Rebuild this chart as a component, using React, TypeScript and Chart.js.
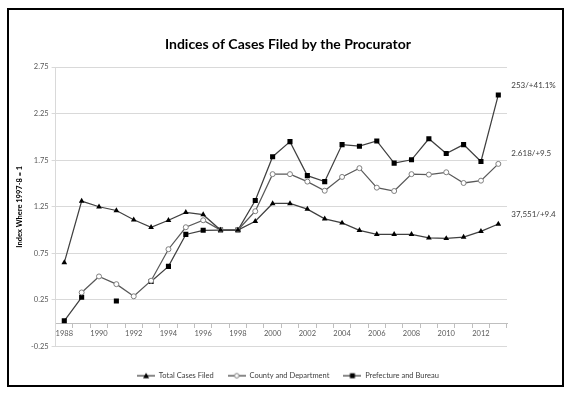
import React, { useEffect, useRef } from "react";
import { Chart, registerables } from "chart.js";

Chart.register(...registerables);

const years = [
  "1988", "1989", "1990", "1991", "1992", "1993", "1994", "1995", "1996",
  "1997", "1998", "1999", "2000", "2001", "2002", "2003", "2004", "2005",
  "2006", "2007", "2008", "2009", "2010", "2011", "2012", "2013",
];

const totalCases = [
  0.65, 1.31, 1.25, 1.21, 1.11, 1.03, 1.105, 1.19, 1.165, 1.0, 1.0, 1.094,
  1.285, 1.285, 1.224, 1.12, 1.076, 0.997, 0.953, 0.953, 0.953, 0.917, 0.91,
  0.924, 0.986, 1.065,
];

const countyDept = [
  null, 0.33, 0.502, 0.419, 0.289, 0.456, 0.794, 1.03, 1.105, 1.0, 1.0, 1.202,
  1.6, 1.6, 1.52, 1.422, 1.57, 1.664, 1.455, 1.419, 1.6, 1.595, 1.62, 1.505,
  1.53, 1.71,
];

const prefBureau = [
  0.026, 0.278, null, 0.239, null, 0.448, 0.61, 0.953, 0.997, 1.0, 1.0, 1.317,
  1.787, 1.949, 1.584, 1.52, 1.917, 1.9, 1.956, 1.718, 1.754, 1.98, 1.822,
  1.917, 1.736, 2.45,
];

const seriesNames = ["Total Cases Filed", "County and Department", "Prefecture and Bureau"];
const endLabels = ["37,551/+9.4", "2.618/+9.5", "253/+41.1%"];
const yTicks = [-0.25, 0.25, 0.75, 1.25, 1.75, 2.25, 2.75];

const FONT = "Lato";
const LINE = "#404040";

function makeIcon(kind: string): HTMLCanvasElement {
  const c = document.createElement("canvas");
  c.width = 18;
  c.height = 8;
  const g = c.getContext("2d")!;
  g.strokeStyle = LINE;
  g.lineWidth = 1.25;
  g.beginPath();
  g.moveTo(0, 4);
  g.lineTo(18, 4);
  g.stroke();
  if (kind === "triangle") {
    g.fillStyle = "#000";
    g.beginPath();
    g.moveTo(9, 1);
    g.lineTo(12, 6.5);
    g.lineTo(6, 6.5);
    g.closePath();
    g.fill();
  } else if (kind === "circle") {
    g.fillStyle = "#fff";
    g.strokeStyle = "#7f7f7f";
    g.lineWidth = 1;
    g.beginPath();
    g.arc(9, 4, 2.3, 0, Math.PI * 2);
    g.fill();
    g.stroke();
  } else {
    g.fillStyle = "#000";
    g.fillRect(6.5, 1.5, 5, 5);
  }
  return c;
}

export default function App() {
  const ref = useRef<HTMLCanvasElement | null>(null);

  useEffect(() => {
    if (!ref.current) return;
    const icons = [makeIcon("triangle"), makeIcon("circle"), makeIcon("rect")];

    const framePlugin = {
      id: "frame",
      beforeDraw(chart: any) {
        const ctx = chart.ctx;
        ctx.save();
        ctx.fillStyle = "#fff";
        ctx.fillRect(0, 0, chart.width, chart.height);
        ctx.restore();
      },
      afterDatasetsDraw(chart: any) {
        const ctx = chart.ctx;
        ctx.save();
        ctx.font = `8px ${FONT}`;
        ctx.fillStyle = LINE;
        ctx.textAlign = "left";
        ctx.textBaseline = "middle";
        chart.data.datasets.forEach((_: any, i: number) => {
          const meta = chart.getDatasetMeta(i);
          const last = meta.data[meta.data.length - 1];
          if (last) ctx.fillText(endLabels[i], last.x + 13, last.y - 10);
        });
        ctx.restore();
      },
      afterDraw(chart: any) {
        const ctx = chart.ctx;
        ctx.save();
        ctx.strokeStyle = "#000";
        ctx.lineWidth = 2;
        ctx.strokeRect(8, 9, 555, 377);
        ctx.restore();
      },
    };

    const chart = new Chart(ref.current, {
      type: "line",
      data: {
        labels: years,
        datasets: [
          {
            label: seriesNames[0],
            data: totalCases,
            borderColor: LINE,
            borderWidth: 1.25,
            pointStyle: "triangle",
            pointRadius: 3.3,
            pointBackgroundColor: "#000",
            pointBorderColor: "#000",
            pointBorderWidth: 0,
            spanGaps: false,
          },
          {
            label: seriesNames[1],
            data: countyDept,
            borderColor: "#595959",
            borderWidth: 1.25,
            pointStyle: "circle",
            pointRadius: 2.5,
            pointBackgroundColor: "#fff",
            pointBorderColor: "#7f7f7f",
            pointBorderWidth: 1,
            spanGaps: false,
          },
          {
            label: seriesNames[2],
            data: prefBureau,
            borderColor: LINE,
            borderWidth: 1.25,
            pointStyle: "rect",
            pointRadius: 3.6,
            pointBackgroundColor: "#000",
            pointBorderColor: "#000",
            pointBorderWidth: 0,
            spanGaps: false,
          },
        ],
      },
      options: {
        responsive: false,
        animation: false,
        layout: { padding: { left: 11, right: 10, top: 10, bottom: 3.5 } },
        elements: { line: { tension: 0 } },
        plugins: {
          title: {
            display: true,
            text: "Indices of Cases Filed by the Procurator",
            color: "#000",
            font: { family: FONT, size: 14, weight: "bold" },
            padding: { top: 25.6, bottom: 14.6 },
          },
          legend: {
            position: "bottom",
            title: { display: true, text: "", font: { size: 1, lineHeight: 1 }, padding: { top: 10.5, bottom: 0 } },
            labels: {
              usePointStyle: true,
              pointStyleWidth: 18,
              padding: 14,
              color: LINE,
              font: { family: FONT, size: 7.5 },
              generateLabels: (c: any) =>
                (Chart.defaults.plugins.legend.labels as any)
                  .generateLabels(c)
                  .map((it: any, i: number) => ({ ...it, pointStyle: icons[i] })),
            },
          },
          tooltip: { enabled: false },
        },
        scales: {
          x: {
            type: "category",
            position: { y: 0 } as any,
            offset: true,
            grid: {
              offset: true,
              drawOnChartArea: false,
              drawTicks: true,
              tickLength: 4,
              color: "#bfbfbf",
            },
            border: { display: true, color: "#bfbfbf", width: 1 },
            ticks: {
              autoSkip: false,
              maxRotation: 0,
              padding: 2,
              color: "#595959",
              font: { family: FONT, size: 7.5 },
              callback: (_v: any, i: number) => (i % 2 === 0 ? years[i] : ""),
            },
          },
          y: {
            min: -0.25,
            max: 2.75,
            afterBuildTicks: (scale: any) => {
              scale.ticks = yTicks.map((v) => ({ value: v }));
            },
            grid: { color: "#d9d9d9", tickLength: 4, drawTicks: true },
            border: { display: true, color: "#d9d9d9" },
            ticks: {
              padding: 3,
              color: "#595959",
              font: { family: FONT, size: 7.5 },
              callback: (v: any) => Number(v).toFixed(2),
            },
            title: {
              display: true,
              text: "Index Where 1997-8 = 1",
              color: "#000",
              font: { family: FONT, size: 7.5, weight: "bold" },
              padding: { top: 4, bottom: 4 },
            },
          },
          yRight: {
            type: "linear",
            position: "right",
            display: true,
            grid: { drawOnChartArea: false, drawTicks: false },
            border: { display: false },
            ticks: { display: false },
            afterFit: (scale: any) => {
              scale.width = 58;
            },
          },
        },
      },
      plugins: [framePlugin],
    });

    return () => chart.destroy();
  }, []);

  return (
    <div style={{ position: "absolute", left: 0, top: 0, width: 575, height: 393 }}>
      <canvas ref={ref} width={575} height={393} />
    </div>
  );
}
